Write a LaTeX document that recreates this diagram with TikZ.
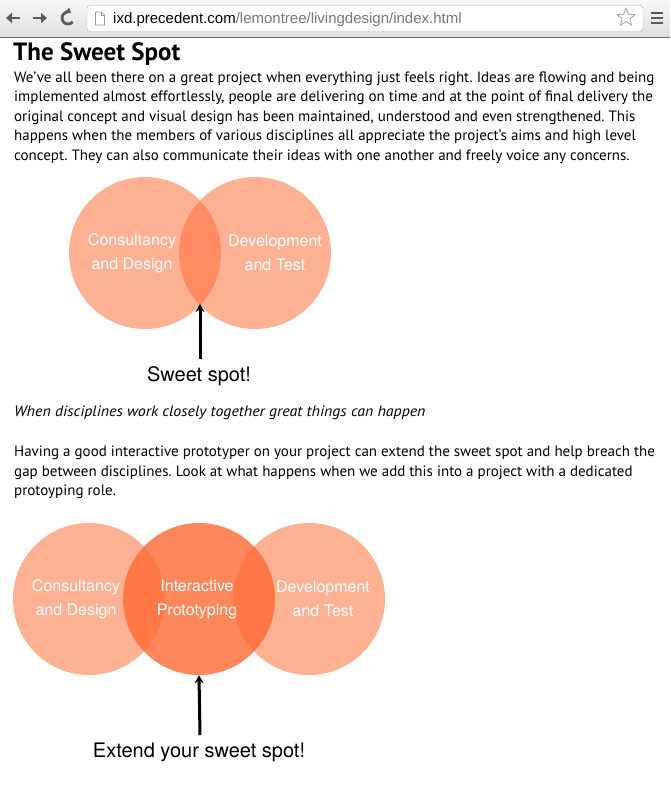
\documentclass[tikz,border=0pt]{standalone}
\usepackage{fontspec}
\setmainfont{PT Sans}[ItalicFeatures={FakeStretch=1.06}]
\newfontfamily\helv{TeX Gyre Heros}
\newfontfamily\urlfont{Liberation Sans}
\usetikzlibrary{arrows.meta,shapes.geometric,positioning,calc}
\frenchspacing

\definecolor{spotorange}{RGB}{255,106,51}
\definecolor{barTop}{RGB}{247,247,247}
\definecolor{barBottom}{RGB}{223,223,223}
\definecolor{urlgray}{RGB}{118,118,118}
\definecolor{icongray}{RGB}{90,90,90}

\tikzset{
    bodyline/.style={anchor=base west,inner sep=0pt,font=\fontsize{15}{18}\selectfont},
    vennset/.style={circle,inner sep=0pt,minimum size=152pt,fill=spotorange,fill opacity=0.52},
    venntext/.style={align=center,text=white,inner sep=0pt,font=\helv\fontsize{16}{24}\selectfont},
    spotlabel/.style={anchor=base,inner sep=0pt,font=\helv\fontsize{20}{24}\selectfont},
    spotarrow/.style={-{Stealth[length=8pt,width=9pt]},line width=3pt},
    navarrow/.style={-{Triangle[length=6pt,width=10pt]},line width=2.8pt,icongray}
}

\begin{document}
\begin{tikzpicture}[x=1pt,y=-1pt,line cap=butt,line join=round,>=Stealth]

        % --- Page ---
        \useasboundingbox (0,0) rectangle (670,785);
        \fill[white] (0,0) rectangle (670,785);

        % --- Browser toolbar ---
        \shade[top color=barTop,bottom color=barBottom] (0,0) rectangle (670,37);
        \draw[gray!85!black,line width=1pt] (0,37.5) -- (670,37.5);

        % back, forward, reload
        \coordinate (back) at (13,18);
        \coordinate (forward) at (40,18);
        \coordinate (reload) at (68,18);
        \draw[navarrow] ($(back)+(7,0)$) -- ($(back)+(-7,0)$);
        \draw[navarrow] ($(forward)+(-7,0)$) -- ($(forward)+(7,0)$);
        \draw[line width=2.8pt,icongray,-{Triangle[length=4.5pt,width=7pt]}]
        ($(reload)+(40:6)$) arc[start angle=40,end angle=300,radius=6];

        % address bar
        \node[draw=gray!60,fill=white,rounded corners=3pt,minimum width=556pt,minimum height=26pt,inner sep=0pt] (addressbar) at (365,18.5) {};
        \coordinate (pageicon) at (100,18.5);
        \draw[gray!80,fill=white,line width=0.6pt] ($(pageicon)+(-4.5,-6.5)$) -- ($(pageicon)+(1.5,-6.5)$) -- ($(pageicon)+(4.5,-3.5)$) -- ($(pageicon)+(4.5,6.5)$) -- ($(pageicon)+(-4.5,6.5)$) -- cycle;
        \draw[gray!80,line width=0.6pt] ($(pageicon)+(1.5,-6.5)$) -- ($(pageicon)+(1.5,-3.5)$) -- ($(pageicon)+(4.5,-3.5)$);
        \node[anchor=base west,inner sep=0pt,font=\urlfont\fontsize{15}{16}\selectfont] (url) at (113,23.5)
            {ixd.precedent.com\textcolor{urlgray}{/lemontree/livingdesign/index.html}};

        % star and menu
        \node[star,star points=5,star point ratio=2.3,draw=gray!75,line width=0.8pt,minimum size=19pt,inner sep=0pt] (bookmark) at (626,17.5) {};
        \foreach \dy in {-5,0,5}
            \fill[icongray] (651,18+\dy-1.3) rectangle (663,18+\dy+1.3);

        % --- Text, first part ---
        \node[anchor=base west,inner sep=0pt,font=\bfseries\fontsize{25}{28}\selectfont] (title) at (13,60) {The Sweet Spot};
        \node[bodyline] (introa) at (14,82) {We’ve all been there on a great project when everything just feels right. Ideas are flowing and being};
        \node[bodyline] (introb) at (14,101.5) {implemented almost effortlessly, people are delivering on time and at the point of final delivery the};
        \node[bodyline] (introc) at (14,121) {original concept and visual design has been maintained, understood and even strengthened. This};
        \node[bodyline] (introd) at (14,140.5) {happens when the members of various disciplines all appreciate the project’s aims and high level};
        \node[bodyline] (introe) at (14,160) {concept. They can also communicate their ideas with one another and freely voice any concerns.};

        % --- Two disciplines ---
        \node[vennset] (consult) at (145,253) {};
        \node[vennset] (develop) at (255,253) {};
        \node[venntext] (consulttext) at (132,253) {Consultancy\\and Design};
        \node[venntext] (developtext) at (275,253) {Development\\and Test};

        % sweet spot
        \coordinate (lensbottom) at (200,304);
        \node[spotlabel] (sweetlabel) at (199,381) {Sweet spot!};
        \draw[spotarrow] ($(sweetlabel.north)+(1,-7)$) -- (lensbottom);

        % --- Text, second part ---
        \node[bodyline,font=\itshape\fontsize{15}{18}\selectfont] (caption) at (14,416) {When disciplines work closely together great things can happen};
        \node[bodyline] (protoa) at (14,456) {Having a good interactive prototyper on your project can extend the sweet spot and help breach the};
        \node[bodyline] (protob) at (14,476) {gap between disciplines. Look at what happens when we add this into a project with a dedicated};
        \node[bodyline] (protoc) at (14,495) {protoyping role.};

        % --- Three disciplines ---
        \node[vennset] (consulttwo) at (89,599) {};
        \node[vennset,fill opacity=0.8] (prototype) at (199,599) {};
        \node[vennset] (developtwo) at (309,599) {};
        \node[venntext] (consulttwotext) at (76,599) {Consultancy\\and Design};
        \node[venntext] (prototext) at (197,599) {Interactive\\Prototyping};
        \node[venntext] (developtwotext) at (323,599) {Development\\and Test};

        % extended sweet spot
        \node[spotlabel] (extendlabel) at (199,757) {Extend your sweet spot!};
        \draw[spotarrow] ($(extendlabel.north)+(1,-7)$) -- (prototype.south);

    \end{tikzpicture}
\end{document}
